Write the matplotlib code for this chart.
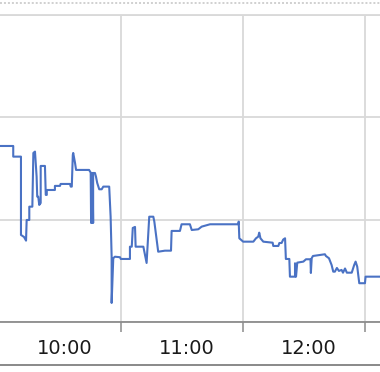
import matplotlib
matplotlib.use("Agg")
import matplotlib.pyplot as plt
from matplotlib.lines import Line2D
from matplotlib.transforms import ScaledTranslation

# --- data (minutes after 09:00, value) ---
minutes = [30.5, 37.0, 37.0, 40.8, 40.8, 42.3, 43.3, 43.6, 44.9, 44.9,
           46.4, 46.9, 47.7, 48.5, 48.8, 49.3, 49.8, 50.5, 50.5, 52.6,
           53.0, 53.5, 53.5, 57.5, 57.5, 60.0, 60.3, 64.9, 65.3, 65.8,
           66.3, 66.5, 67.4, 67.9, 74.3, 75.1, 75.3, 75.6, 75.8, 76.0,
           76.3, 76.3, 77.2, 77.7, 78.3, 79.3, 80.5, 81.3, 84.2, 84.9,
           85.4, 85.4, 86.2, 87.0, 89.5, 89.9, 94.4, 94.4, 95.3, 95.8,
           96.9, 97.2, 101.0, 102.6, 103.9, 105.9, 106.4, 108.3, 111.6, 114.6,
           114.9, 119.0, 119.8, 123.9, 124.8, 128.0, 129.7, 133.8, 147.7, 147.9,
           148.2, 150.1, 155.1, 156.4, 157.5, 158.0, 158.6, 160.0, 164.6, 164.9,
           167.4, 167.9, 169.0, 169.8, 170.7, 171.1, 172.8, 173.1, 175.6, 175.6,
           176.1, 176.7, 179.7, 181.0, 183.2, 183.4, 183.8, 184.4, 190.3, 190.8,
           192.3, 193.6, 194.4, 195.2, 196.2, 197.2, 198.5, 199.2, 200.2, 201.1,
           203.5, 204.7, 205.4, 206.2, 207.2, 210.0, 210.3, 217.4]
values = [17.2, 17.2, 16.16, 16.16, 8.51, 8.31, 7.95, 9.97, 9.97, 11.27,
          11.27, 16.52, 16.65, 14.2, 12.25, 12.25, 11.44, 11.63, 15.25, 15.25,
          12.42, 12.42, 12.9, 12.9, 13.3, 13.3, 13.49, 13.49, 13.23, 13.23,
          16.32, 16.52, 15.54, 14.86, 14.86, 14.6, 9.68, 14.56, 9.68, 14.56,
          9.68, 14.56, 14.56, 14.2, 13.59, 12.97, 12.97, 13.23, 13.23, 10.29,
          6.38, 1.86, 6.23, 6.38, 6.33, 6.16, 6.16, 7.36, 7.36, 9.19,
          9.29, 7.36, 7.36, 5.77, 10.29, 10.29, 9.81, 6.87, 6.97, 6.97,
          8.9, 8.9, 9.55, 9.55, 8.99, 9.06, 9.32, 9.55, 9.55, 9.81,
          8.18, 7.85, 7.85, 8.18, 8.34, 8.73, 8.18, 7.85, 7.75, 7.43,
          7.43, 7.72, 7.72, 8.06, 8.18, 6.16, 6.16, 4.43, 4.43, 5.74,
          4.43, 5.8, 5.9, 6.13, 6.13, 4.79, 6.23, 6.45, 6.62, 6.45,
          6.23, 5.57, 4.92, 4.92, 5.28, 4.99, 5.09, 4.82, 5.23, 4.82,
          4.82, 5.57, 5.9, 5.41, 3.79, 3.79, 4.43, 4.43]

hour_labels = ["10:00", "11:00", "12:00"]
label_pos = [60, 120, 180]      # label positions (minutes after 09:00)
grid_pos = [90, 150, 210]       # vertical gridlines / tick marks

fig = plt.figure(figsize=(3.8, 3.72), dpi=100)
ax = fig.add_axes([0, 0.1344, 1, 0.8253])

ax.plot(minutes, values, color='#4a72c4', linewidth=1.5)

ax.set_xlim(30.49, 217.4)
ax.set_ylim(0, 30)
ax.set_yticks([0, 10, 20, 30])
ax.set_xticks(grid_pos)
ax.set_xticklabels([])
ax.set_xticks(label_pos, minor=True)
ax.set_xticklabels(hour_labels, minor=True)

ax.grid(True, which='major', color='#d9d9d9', linewidth=1.3)
ax.tick_params(axis='y', left=False, labelleft=False)
ax.tick_params(axis='x', which='major', direction='out', length=7.2,
               width=1.1, color='#8c8c8c')
ax.tick_params(axis='x', which='minor', length=0, pad=12,
               labelsize=14, labelcolor='#1a1a1a')

for side in ['left', 'right']:
    ax.spines[side].set_visible(False)
ax.spines['top'].set_color('#d9d9d9')
ax.spines['top'].set_linewidth(1.3)
ax.spines['bottom'].set_color('#8c8c8c')
ax.spines['bottom'].set_linewidth(1.3)

# nudge the hour labels a little to the right, as in the original
shift = ScaledTranslation(5 / 100, 0, fig.dpi_scale_trans)
for lbl in ax.xaxis.get_minorticklabels():
    lbl.set_transform(lbl.get_transform() + shift)

# dotted border on top and the solid border at the bottom
fig.add_artist(Line2D([0, 1], [0.991, 0.991], transform=fig.transFigure,
                      color='#c4c4c4', linewidth=1.1, linestyle=(0, (1.3, 1.3))))
fig.add_artist(Line2D([0, 1], [0.0175, 0.0175], transform=fig.transFigure,
                      color='#808080', linewidth=1.3))

plt.savefig('out.png', dpi=100)
